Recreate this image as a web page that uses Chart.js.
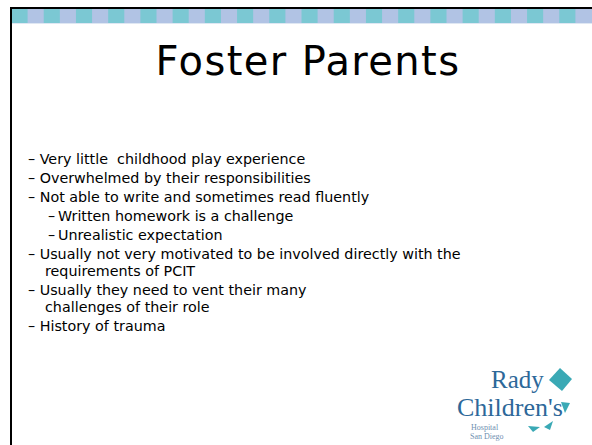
<!DOCTYPE html>
<html>
<head>
<meta charset="utf-8">
<script src="https://cdn.jsdelivr.net/npm/chart.js@4"></script>
<style>
  html, body { margin: 0; padding: 0; background: #fff; }
  #slide { position: relative; width: 592px; height: 445px; overflow: hidden; background: #fff; font-family: "DejaVu Sans", Verdana, sans-serif; color: #000; }
  #topLine { position: absolute; left: 10px; top: 7px; width: 582px; height: 2px; background: #000; }
  #leftLine { position: absolute; left: 10px; top: 7px; width: 2px; height: 438px; background: #000; }
  #stripeBox { position: absolute; left: 12px; top: 9px; width: 580px; height: 14px; }
  #stripeEdge { position: absolute; left: 12px; top: 23px; width: 580px; height: 1px; background: #dfe7f3; }
  #title { position: absolute; left: 12px; width: 592px; top: 38px; text-align: center; font-size: 40px; letter-spacing: 1.4px; }
  .b { position: absolute; font-size: 14.3px; white-space: nowrap; }
  .logo { position: absolute; font-family: "Liberation Serif", serif; color: #2d6899; white-space: nowrap; line-height: 1; }
</style>
</head>
<body>
<div id="slide">
  <div id="topLine"></div>
  <div id="leftLine"></div>
  <div id="stripeBox"><canvas id="stripe"></canvas></div>
  <div id="stripeEdge"></div>
  <div id="title">Foster Parents</div>

  <div class="b" style="left:28px;top:151px">– Very little&nbsp; childhood play experience</div>
  <div class="b" style="left:28px;top:170px">– Overwhelmed by their responsibilities</div>
  <div class="b" style="left:28px;top:189px">– Not able to write and sometimes read fluently</div>
  <div class="b" style="left:48px;top:208px">–&#8201;Written homework is a challenge</div>
  <div class="b" style="left:48px;top:227px">–&#8201;Unrealistic expectation</div>
  <div class="b" style="left:28px;top:246px">– Usually not very motivated to be involved directly with the</div>
  <div class="b" style="left:45px;top:263px">requirements of PCIT</div>
  <div class="b" style="left:28px;top:282px">– Usually they need to vent their many</div>
  <div class="b" style="left:45px;top:299px">challenges of their role</div>
  <div class="b" style="left:28px;top:318px">– History of trauma</div>

  <div class="logo" style="left:491px;top:367px;font-size:25px">Rady</div>
  <div class="logo" style="left:457px;top:395px;font-size:26px">Children's</div>
  <div class="logo" style="left:471px;top:424px;font-size:8px;color:#6f8fb0">Hospital</div>
  <div class="logo" style="left:470px;top:433px;font-size:8px;color:#6f8fb0">San Diego</div>
  <svg style="position:absolute;left:440px;top:360px" width="152" height="85">
    <polygon points="120,8 132,19 122,31 109,20" fill="#3aa9b5"/>
    <polygon points="121,42 130,43 125,53" fill="#3aa9b5"/>
    <polygon points="88,66 100,67 93,72" fill="#3aa9b5"/>
    <polygon points="104,67 113,61 110,70" fill="#3aa9b5"/>
  </svg>
</div>

<script>
// stripe along the top of the slide: 36 equal blocks, teal / lavender
const segmentLabels = ['s1','s2','s3','s4','s5','s6','s7','s8','s9','s10','s11','s12',
  's13','s14','s15','s16','s17','s18','s19','s20','s21','s22','s23','s24',
  's25','s26','s27','s28','s29','s30','s31','s32','s33','s34','s35','s36'];
const segmentValues = [1,1,1,1,1,1,1,1,1,1,1,1,1,1,1,1,1,1,1,1,1,1,1,1,1,1,1,1,1,1,1,1,1,1,1,1];
const teal = '#7bc8d3', lavender = '#b1c3e4';
const segmentColors = segmentLabels.map((l, i) => i % 2 === 0 ? teal : lavender);

let ctx = document.getElementById('stripe').getContext('2d');
let stripeChart = new Chart(ctx, {
  type: 'bar',
  data: {
    labels: segmentLabels,
    datasets: [{
      data: segmentValues,
      backgroundColor: segmentColors,
      borderWidth: 0,
      barPercentage: 1,
      categoryPercentage: 1,
      inflateAmount: 0.5
    }]
  },
  options: {
    responsive: true,
    maintainAspectRatio: false,
    animation: false,
    layout: { padding: 0 },
    plugins: { legend: { display: false }, tooltip: { enabled: false } },
    scales: {
      x: { display: false, offset: true },
      y: { display: false, min: 0, max: 1 }
    }
  }
});
</script>
</body>
</html>
